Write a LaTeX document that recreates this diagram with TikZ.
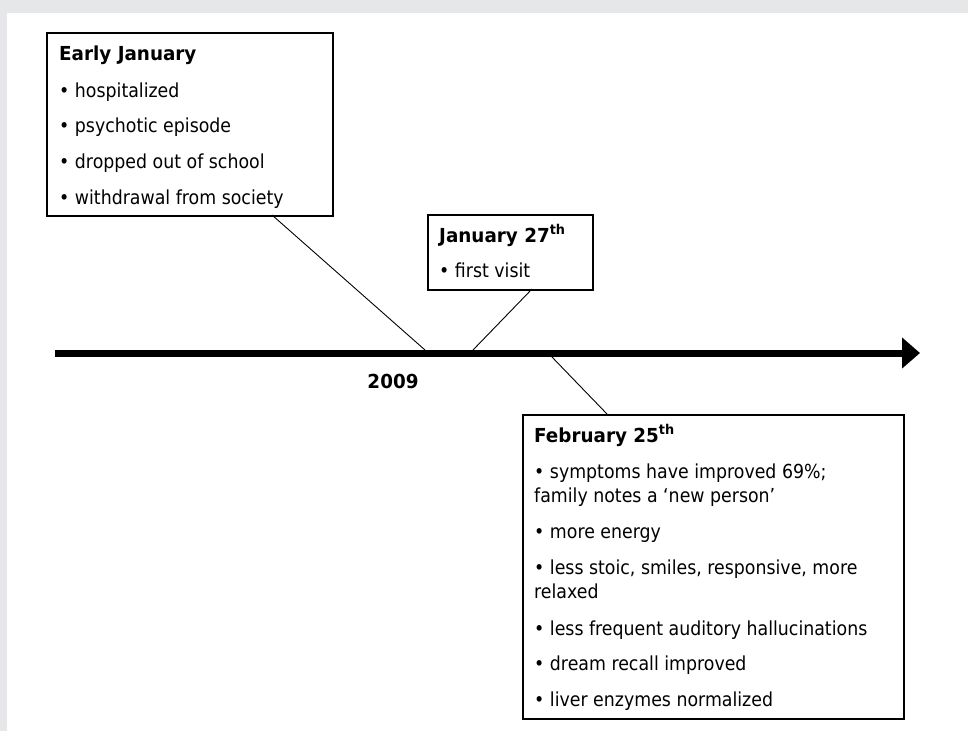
\documentclass[tikz,border=0pt]{standalone}
\usepackage{fontspec}
\setmainfont{DejaVu Sans}[FakeStretch=0.9]
\newfontfamily\ttlfont{DejaVu Sans}[FakeStretch=0.95]
\usetikzlibrary{arrows.meta}
\definecolor{bggray}{HTML}{E6E7E9}
\tikzset{
  box/.style={draw=black, line width=1.6pt, anchor=north west, inner sep=0pt, fill=white},
  txt/.style={anchor=base west, inner sep=0pt, font=\fontsize{19.3}{24}\selectfont},
  ttl/.style={anchor=base west, inner sep=0pt, font=\ttlfont\fontsize{19.3}{24}\selectfont\bfseries},
  conn/.style={draw=black, line width=0.9pt},
}
\begin{document}
\begin{tikzpicture}[x=1pt,y=-1pt]
\useasboundingbox (0,0) rectangle (968,731);
\fill[bggray] (0,0) rectangle (968,731);
\fill[white] (7,13) rectangle (968,731);

% timeline
\coordinate (tl0) at (55,353);
\coordinate (tl1) at (920,353);
\draw[line width=7pt, -{Triangle[length=18pt,width=30pt]}] (tl0) -- (tl1);
\node[ttl, anchor=base] (year) at (393,388) {2009};

% Early January box
\node[box, minimum width=286pt, minimum height=183pt] (early) at (46,32) {};
\node[ttl] (e0) at (59,60) {Early January};
\node[txt] (e1) at (59,97) {• hospitalized};
\node[txt] (e2) at (59,132) {• psychotic episode};
\node[txt] (e3) at (59,168) {• dropped out of school};
\node[txt] (e4) at (59,204) {• withdrawal from society};

% January 27 box
\node[box, minimum width=165pt, minimum height=75pt] (jan) at (427,214) {};
\node[ttl] (j0) at (439,242) {January 27\textsuperscript{th}};
\node[txt] (j1) at (439,277) {• first visit};

% February 25 box
\node[box, minimum width=381pt, minimum height=304pt] (feb) at (522,414) {};
\node[ttl] (f0) at (534,442) {February 25\textsuperscript{th}};
\node[txt] (f1) at (534,478) {• symptoms have improved 69\%;};
\node[txt] (f1b) at (534,502) {family notes a ‘new person’};
\node[txt] (f2) at (534,538) {• more energy};
\node[txt] (f3) at (534,574) {• less stoic, smiles, responsive, more};
\node[txt] (f3b) at (534,598) {relaxed};
\node[txt] (f4) at (534,635) {• less frequent auditory hallucinations};
\node[txt] (f5) at (534,670) {• dream recall improved};
\node[txt] (f6) at (534,706) {• liver enzymes normalized};

% connectors
\coordinate (ce) at (272,215);
\coordinate (te) at (425,350);
\coordinate (cj) at (532,289);
\coordinate (tj) at (473,350);
\coordinate (tf) at (551,356);
\coordinate (cf) at (607,414);
\draw[conn] (ce) -- (te);
\draw[conn] (cj) -- (tj);
\draw[conn] (tf) -- (cf);
\end{tikzpicture}
\end{document}
